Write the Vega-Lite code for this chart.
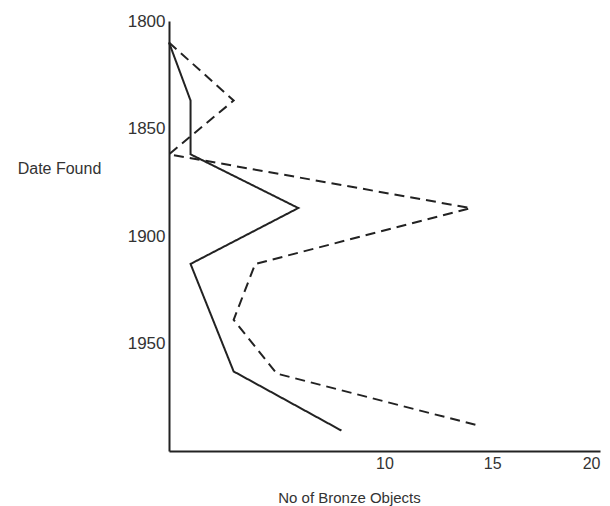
{
  "$schema": "https://vega.github.io/schema/vega-lite/v6.json",
  "width": 431,
  "height": 430,
  "autosize": {"type": "none"},
  "padding": {"left": 169, "top": 21, "right": 10, "bottom": 55},
  "background": "white",
  "config": {"view": {"stroke": null}, "font": "Liberation Sans"},
  "data": {
    "values": [
      {"series": "solid", "count": 0, "year": 1810},
      {"series": "solid", "count": 1, "year": 1837},
      {"series": "solid", "count": 1, "year": 1862},
      {"series": "solid", "count": 6, "year": 1887},
      {"series": "solid", "count": 1, "year": 1913},
      {"series": "solid", "count": 3, "year": 1963},
      {"series": "solid", "count": 8, "year": 1990.5},
      {"series": "dashed", "count": 0, "year": 1810},
      {"series": "dashed", "count": 3, "year": 1837},
      {"series": "dashed", "count": 0, "year": 1862},
      {"series": "dashed", "count": 14, "year": 1887},
      {"series": "dashed", "count": 4, "year": 1913},
      {"series": "dashed", "count": 3, "year": 1939},
      {"series": "dashed", "count": 5, "year": 1964},
      {"series": "dashed", "count": 14.4, "year": 1988.3}
    ]
  },
  "mark": {"type": "line", "color": "#222", "strokeWidth": 2},
  "encoding": {
    "x": {
      "field": "count", "type": "quantitative",
      "scale": {"domain": [0, 20], "nice": false, "zero": true},
      "axis": {
        "values": [10, 15, 20], "grid": false, "ticks": false,
        "domainColor": "#222", "domainWidth": 2,
        "labelFontSize": 16, "labelColor": "#333", "labelPadding": 4,
        "labelFont": "Liberation Sans",
        "title": "No of Bronze Objects", "titleFontSize": 15, "titleFontWeight": "normal",
        "titleColor": "#333", "titleFont": "Liberation Sans",
        "titleX": 180, "titleY": 46, "titleAlign": "center", "titleBaseline": "middle"
      }
    },
    "y": {
      "field": "year", "type": "quantitative",
      "scale": {"domain": [1800, 2000], "reverse": true, "nice": false, "zero": false},
      "axis": {
        "values": [1800, 1850, 1900, 1950], "grid": false, "ticks": false,
        "format": "d",
        "domainColor": "#222", "domainWidth": 2,
        "labelFontSize": 17, "labelColor": "#333", "labelPadding": 4,
        "labelFont": "Liberation Sans",
        "title": "Date Found", "titleAngle": 0, "titleFontSize": 16, "titleFontWeight": "normal",
        "titleColor": "#333", "titleFont": "Liberation Sans",
        "titleX": -110, "titleY": 147, "titleAlign": "center", "titleBaseline": "middle"
      }
    },
    "detail": {"field": "series"},
    "strokeDash": {
      "field": "series", "type": "nominal",
      "scale": {"domain": ["solid", "dashed"], "range": [[1, 0], [10, 6]]},
      "legend": null
    },
    "order": {"field": "year", "type": "quantitative"}
  }
}
